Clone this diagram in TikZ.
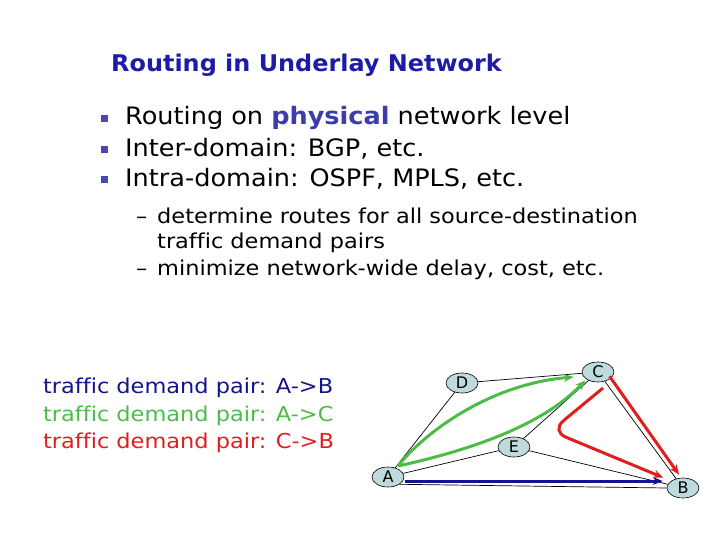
\documentclass[tikz,border=0pt]{standalone}
\usepackage{fontspec}
\setmainfont{DejaVu Sans}[Ligatures=NoCommon]
\newfontfamily\titlefont{DejaVu Sans}[Ligatures=NoCommon,FakeStretch=1.04]
\newfontfamily\bigfont{DejaVu Sans}[Ligatures=NoCommon,FakeStretch=1.065]
\newfontfamily\smallfont{DejaVu Sans}[Ligatures=NoCommon,FakeStretch=1.095]
\usetikzlibrary{arrows.meta,shapes.geometric,calc}
\definecolor{titleblue}{HTML}{1C1CA6}
\definecolor{physblue}{HTML}{3C3CAA}
\definecolor{bulletblue}{HTML}{4848B4}
\definecolor{navyline}{HTML}{14148C}
\definecolor{greenline}{HTML}{4CBC48}
\definecolor{redline}{HTML}{E01E1E}
\definecolor{nodefill}{HTML}{BFDADC}
\tikzset{
  txt/.style={anchor=base west, inner sep=0pt},
  bigtxt/.style={txt, font=\bigfont\fontsize{24}{28}\selectfont},
  smalltxt/.style={txt, font=\smallfont\fontsize{20.5}{24}\selectfont},
  bulletsq/.style={fill=bulletblue, minimum size=7pt, inner sep=0pt},
  router/.style={ellipse, draw=black, line width=0.6pt, fill=nodefill, minimum width=32pt, minimum height=20pt, inner sep=0pt, font=\fontsize{16}{18}\selectfont},
  link/.style={draw=black, line width=0.7pt},
  route/.style={line width=3pt, -{Stealth[length=10pt,width=8pt]}},
}
\begin{document}
\begin{tikzpicture}[x=1pt,y=-1pt]
\useasboundingbox (0,0) rectangle (720,540);
% title
\node[txt, font=\titlefont\bfseries\fontsize{23}{27}\selectfont, text=titleblue] (title) at (111,72) {Routing in Underlay Network};
% bullets
\node[bulletsq] (b1) at (104,118.5) {};
\node[bulletsq] (b2) at (104,150) {};
\node[bulletsq] (b3) at (104,180) {};
\node[bigtxt] (l1) at (125,125) {Routing on \textcolor{physblue}{\bfseries physical} network level};
\node[bigtxt] (l2) at (125,156.5) {Inter-domain: BGP, etc.};
\node[bigtxt] (l3) at (125,186.5) {Intra-domain: OSPF, MPLS, etc.};
% sub bullets
\node[smalltxt] (d1) at (136,223) {–};
\node[smalltxt] (s1) at (157,223) {determine routes for all source-destination};
\node[smalltxt] (s2) at (157,248) {traffic demand pairs};
\node[smalltxt] (d2) at (136,275) {–};
\node[smalltxt] (s3) at (157,275) {minimize network-wide delay, cost, etc.};
% legend
\node[smalltxt, text=navyline] (g1) at (43,393) {traffic demand pair: A->B};
\node[smalltxt, text=greenline] (g2) at (43,421) {traffic demand pair: A->C};
\node[smalltxt, text=redline] (g3) at (43,448) {traffic demand pair: C->B};
% network
\node[router] (D) at (462,383) {D};
\node[router] (C) at (598,372) {C};
\node[router] (E) at (514,447) {E};
\node[router] (A) at (388,477) {A};
\node[router] (B) at (683,488) {B};
\draw[link] (A) -- (D);
\draw[link] (D) -- (C);
\draw[link] (A) -- (E);
\draw[link] (E) -- (C);
\draw[link] (E) -- (B);
\draw[link] (C) -- (B);
\draw[link] (A.south east) -- (B.west);
% routes
\draw[route, navyline] ($(A.east)+(1,4)$) -- ($(B.west)+(-4,-7)$);
\draw[route, greenline] ($(A)+(10,-11)$) .. controls (425,432) and (490,384) .. ($(C.west)+(-8,5)$);
\draw[route, greenline] ($(A)+(10,-11)$) .. controls (462,452) and (540,428) .. ($(C.south west)+(-1,1)$);
\draw[route, redline] ($(C.south east)+(0,-3)$) -- ($(B.north)+(-4,-3)$);
\draw[route, redline, rounded corners=16pt] ($(C)+(5,16)$) -- (551,431) -- ($(B.north west)+(-8,-3)$);
\end{tikzpicture}
\end{document}
